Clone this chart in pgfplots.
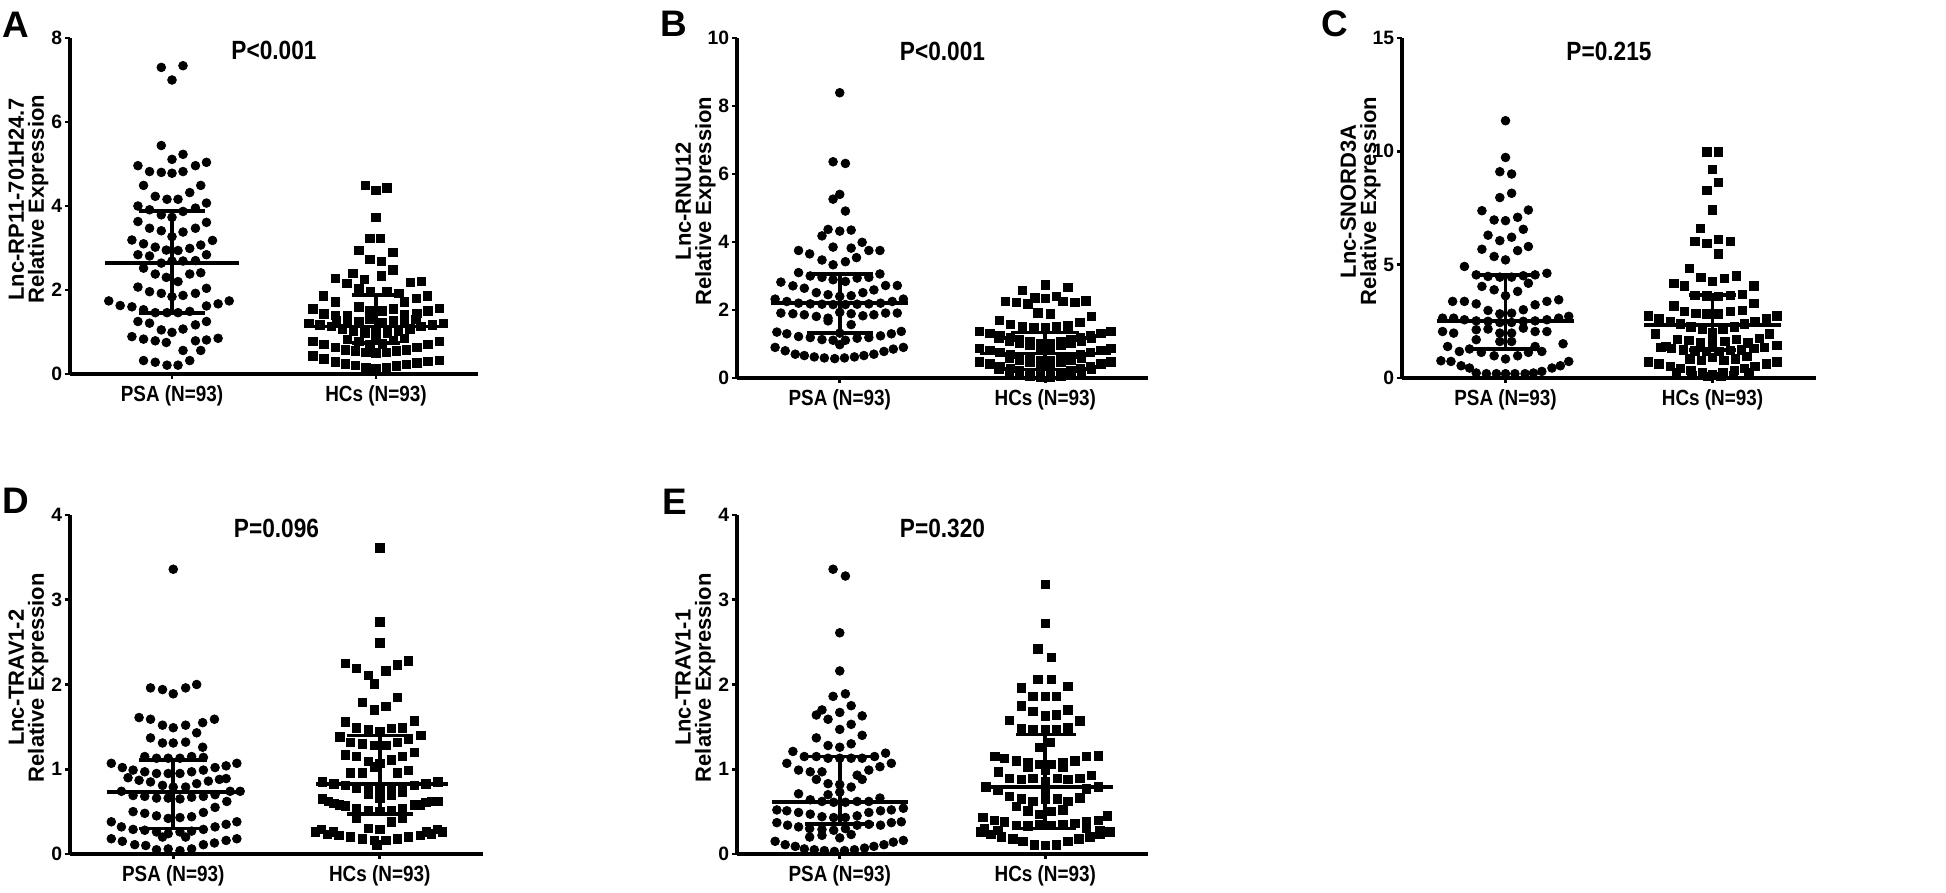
\documentclass[border=0pt]{standalone}
\usepackage{fontspec}
\setmainfont{Liberation Sans}
\newfontfamily\cond{Liberation Sans}[FakeStretch=0.86]
\usepackage{pgfplots}
\pgfplotsset{compat=1.18}
\newcommand\tickfont{\fontsize{11}{12}\selectfont\bfseries}
\newcommand\xlabfont{\fontsize{12.5}{13}\selectfont\cond\bfseries}
\newcommand\labfont{\fontsize{12.5}{11.5}\selectfont\bfseries}
\newcommand\titfont{\fontsize{15}{16}\selectfont\cond\bfseries}
\newcommand\letfont{\fontsize{21}{21}\selectfont\bfseries}
\pgfplotsset{
  panel/.style={
    scale only axis,
    axis lines*=left,
    axis line style={-, line width=1.9pt},
    every tick/.style={black, line width=1.6pt},
    tick align=outside,
    major tick length=0.1cm,
    xmin=0, xmax=4, ymin=0,
    xtick={1,3},
    xticklabels={PSA (N=93),HCs (N=93)},
    xticklabel style={font=\xlabfont, inner sep=0pt, yshift=-0.12cm, anchor=north},
    yticklabel style={font=\tickfont, inner sep=0pt, xshift=-0.05cm},
    clip=false,
  },
  psa/.style={only marks, mark=*, mark size=2.5pt, black},
  hcs/.style={only marks, mark=square*, mark size=2.4pt, black},
  ebar/.style={black, line width=2.1pt, no marks, unbounded coords=jump},
}
\tikzset{
  ylab/.style={xshift=-0.83cm, rotate=90, align=center, font=\labfont, anchor=center, inner sep=0pt},
  ptitle/.style={anchor=base, font=\titfont, inner sep=0pt},
}
\begin{document}
\begin{tikzpicture}
\useasboundingbox (0,0) rectangle (38.92,17.84);
% ---------------- Panel A ----------------
\begin{axis}[panel, at={(1.40cm,10.36cm)}, anchor=south west, width=8.16cm, height=6.72cm,
  ymax=8, ytick={0,2,4,6,8}, yticklabels={0,2,4,6,8}]
\addplot[psa] coordinates {
(0.895,7.30) (1.108,7.34) (1.0,7.0) (0.895,5.44) (1.0,5.11) (1.108,5.23)
(0.666,4.96) (0.78,4.82) (0.895,4.80) (1.0,4.78) (1.108,4.82) (1.23,4.96) (1.338,5.04)
(0.721,4.49) (1.174,4.32) (1.282,4.49)
(0.836,4.23) (0.951,4.16) (1.059,4.16)
(0.666,4.00) (0.78,3.91) (0.895,3.79) (1.0,3.73) (1.108,3.87) (1.23,3.95) (1.338,4.07)
(0.666,3.63) (0.78,3.47) (0.895,3.41) (1.0,3.27) (1.108,3.38) (1.23,3.47) (1.338,3.61)
(0.607,3.19) (0.721,3.10) (0.836,3.02) (0.944,2.95) (1.059,2.94) (1.174,2.99) (1.282,3.07) (1.397,3.18)
(0.666,2.84) (0.78,2.81) (0.895,2.64) (1.0,2.69) (1.108,2.69) (1.23,2.70) (1.338,2.84)
(0.721,2.52) (0.836,2.38) (0.944,2.30) (1.059,2.20) (1.174,2.38) (1.282,2.41)
(0.666,2.07) (0.78,1.96) (0.895,1.92) (1.0,1.84) (1.108,1.87) (1.23,1.92) (1.338,2.04)
(0.38,1.74) (0.492,1.63) (0.607,1.60) (0.721,1.53) (0.836,1.46) (0.951,1.46) (1.059,1.46) (1.174,1.49) (1.338,1.62) (1.452,1.67) (1.561,1.74)
(0.666,1.25) (0.78,1.21) (0.895,1.05) (1.0,0.99) (1.108,1.07) (1.23,1.17) (1.338,1.25)
(0.607,0.89) (0.721,0.83) (0.836,0.79) (0.944,0.75) (1.108,0.56) (1.23,0.79) (1.338,0.81) (1.452,0.85) (1.282,0.56)
(0.721,0.32) (0.836,0.28) (0.951,0.21) (1.059,0.21) (1.174,0.32)
};
\addplot[hcs] coordinates {
(2.895,4.49) (3.0,4.37) (3.108,4.43) (3.0,3.73) (2.938,3.23) (3.043,3.23) (2.83,2.95) (3.167,2.90) (2.938,2.73) (3.052,2.68) (3.167,2.48)
(2.6,2.28) (2.715,2.16) (2.774,2.40) (2.885,2.26) (3.052,2.34) (3.338,2.18) (3.446,2.20)
(2.485,1.86) (2.6,1.72) (2.83,2.04) (2.944,1.96) (3.108,1.96) (3.223,1.92) (3.279,1.72) (3.397,1.80) (3.502,1.86)
(2.38,1.55) (2.49,1.43) (2.60,1.40) (2.72,1.38) (2.83,1.60) (2.94,1.52) (3.06,1.50) (3.17,1.55) (3.28,1.42) (3.40,1.45) (3.51,1.50) (3.62,1.56)
(2.34,1.20) (2.45,1.17) (2.56,1.13) (2.67,1.08) (2.78,1.03) (2.89,0.98) (3.0,0.92) (3.11,0.98) (3.22,1.03) (3.33,1.08) (3.44,1.13) (3.55,1.17) (3.66,1.20) (3.0,1.05)
(2.72,1.28) (2.83,1.25) (2.94,1.30) (3.06,1.22) (3.17,1.28) (3.28,1.25) (2.61,1.27) (3.39,1.30)
(2.38,0.78) (2.49,0.70) (2.60,0.63) (2.70,0.58) (2.80,0.55) (2.90,0.52) (3.0,0.50) (3.10,0.52) (3.20,0.55) (3.30,0.58) (3.40,0.63) (3.51,0.70) (3.62,0.78)
(2.38,0.43) (2.49,0.36) (2.60,0.29) (2.70,0.24) (2.80,0.20) (2.90,0.15) (3.0,0.12) (3.10,0.15) (3.20,0.19) (3.30,0.23) (3.40,0.27) (3.51,0.30) (3.62,0.33)
(2.72,0.83) (2.83,0.78) (2.94,0.70) (3.06,0.72) (3.17,0.80) (3.28,0.85)
};
\addplot[ebar] coordinates {(0.34,2.65) (1.66,2.65) (nan,nan) (0.68,3.88) (1.32,3.88) (nan,nan) (0.68,1.45) (1.32,1.45) (nan,nan) (1,1.45) (1,3.88)};
\addplot[ebar] coordinates {(2.34,1.13) (3.66,1.13) (nan,nan) (2.76,1.88) (3.24,1.88) (nan,nan) (2.76,0.73) (3.24,0.73) (nan,nan) (3,0.73) (3,1.88)};
\node[ylab] at (rel axis cs:0,0.52) {Lnc-RP11-701H24.7\\Relative Expression};
\node[ptitle] at (rel axis cs:0.5,0.935) {P<0.001};
\end{axis}
% ---------------- Panel B ----------------
\begin{axis}[panel, at={(14.74cm,10.28cm)}, anchor=south west, width=8.22cm, height=6.80cm,
  ymax=10, ytick={0,2,4,6,8,10}, yticklabels={0,2,4,6,8,10}]
\addplot[psa] coordinates {
(1.0,8.39) (0.935,6.36) (1.055,6.31) (0.935,5.26) (1.0,5.40) (1.055,4.91)
(0.827,4.18) (0.886,4.37) (1.0,4.32) (1.111,4.35) (1.218,3.99)
(0.599,3.75) (0.707,3.65) (0.827,3.47) (0.935,3.85) (0.935,3.33) (1.055,3.42) (1.111,3.82) (1.163,3.54) (1.283,3.75) (1.391,3.75)
(0.427,2.82) (0.544,2.71) (0.599,3.10) (0.713,3.00) (0.827,2.96) (0.935,2.89) (1.055,2.84) (1.169,2.94) (1.283,2.96) (1.391,3.06) (1.446,2.72) (1.56,2.72)
(0.655,2.64) (0.772,2.51) (0.886,2.45) (1.0,2.40) (1.111,2.42) (1.225,2.51) (1.332,2.59)
(0.371,2.32) (0.485,2.25) (0.599,2.20) (0.713,2.18) (0.827,2.17) (0.935,2.16) (1.055,2.16) (1.169,2.17) (1.283,2.18) (1.397,2.20) (1.511,2.25) (1.619,2.32)
(0.427,1.91) (0.544,1.89) (0.655,1.86) (0.772,1.81) (0.886,1.76) (1.0,1.93) (1.111,1.89) (1.225,1.83) (1.332,1.86) (1.446,1.91) (1.56,1.91) (0.886,1.68) (1.111,1.57)
(0.388,1.35) (0.485,1.30) (0.599,1.22) (0.713,1.19) (0.827,1.13) (0.935,1.11) (1.055,1.11) (1.169,1.17) (1.283,1.19) (1.397,1.24) (1.502,1.30) (1.599,1.37) (1.0,0.98) (1.0,1.32)
(0.371,0.90) (0.469,0.80) (0.567,0.70) (0.655,0.66) (0.752,0.62) (0.85,0.59) (0.951,0.57) (1.046,0.59) (1.143,0.62) (1.235,0.66) (1.332,0.70) (1.43,0.78) (1.521,0.85) (1.619,0.90)
};
\addplot[hcs] coordinates {
(3.0,2.74) (2.775,2.57) (3.221,2.67)
(2.609,2.25) (2.717,2.22) (2.83,2.18) (2.90,2.36) (3.0,2.35) (3.107,2.40) (3.173,2.25) (3.287,2.22) (3.394,2.27)
(2.928,1.91) (3.052,1.89) (2.554,1.69) (3.45,1.81) (3.336,1.63)
(2.661,1.57) (2.775,1.50) (2.889,1.47) (3.0,1.47) (3.107,1.50) (3.221,1.54)
(2.36,1.38) (2.46,1.32) (2.56,1.25) (2.66,1.19) (2.75,1.13) (2.85,1.06) (2.95,1.00) (3.05,1.00) (3.15,1.06) (3.25,1.13) (3.34,1.19) (3.44,1.25) (3.54,1.32) (3.64,1.38)
(2.55,1.16) (2.65,1.09) (2.75,1.03) (2.85,0.96) (2.95,0.90) (3.05,0.90) (3.15,0.96) (3.25,1.03) (3.35,1.09) (3.45,1.16)
(2.36,0.88) (2.46,0.82) (2.56,0.75) (2.66,0.69) (2.75,0.63) (2.85,0.56) (2.95,0.50) (3.05,0.50) (3.15,0.56) (3.25,0.63) (3.34,0.69) (3.44,0.75) (3.54,0.82) (3.64,0.88)
(2.65,0.59) (2.75,0.53) (2.85,0.46) (2.95,0.40) (3.05,0.40) (3.15,0.46) (3.25,0.53) (3.35,0.59)
(2.36,0.48) (2.46,0.42) (2.56,0.35) (2.66,0.29) (2.75,0.23) (2.85,0.16) (2.95,0.10) (3.05,0.10) (3.15,0.16) (3.25,0.23) (3.34,0.29) (3.44,0.35) (3.54,0.42) (3.64,0.48)
(2.55,0.26) (2.65,0.19) (2.75,0.13) (2.85,0.06) (2.95,0.03) (3.05,0.03) (3.15,0.06) (3.25,0.13) (3.35,0.19) (3.45,0.26)
};
\addplot[ebar] coordinates {(0.33,2.20) (1.66,2.20) (nan,nan) (0.68,3.05) (1.32,3.05) (nan,nan) (0.68,1.32) (1.32,1.32) (nan,nan) (1,1.32) (1,3.05)};
\addplot[ebar] coordinates {(2.36,0.72) (3.64,0.72) (nan,nan) (2.67,1.34) (3.33,1.34) (nan,nan) (2.67,0.25) (3.33,0.25) (nan,nan) (3,0.25) (3,1.34)};
\node[ylab] at (rel axis cs:0,0.52) {Lnc-RNU12\\Relative Expression};
\node[ptitle] at (rel axis cs:0.5,0.935) {P<0.001};
\end{axis}
% ---------------- Panel C ----------------
\begin{axis}[panel, at={(28.04cm,10.28cm)}, anchor=south west, width=8.28cm, height=6.80cm,
  ymax=15, ytick={0,5,10,15}, yticklabels={0,5,10,15}]
\addplot[psa] coordinates {
(1.0,11.35) (1.0,9.73) (0.945,9.10) (1.059,9.00) (0.945,7.96) (1.059,8.15) (0.772,7.38) (1.221,7.41)
(0.89,6.97) (1.0,6.94) (1.117,7.09)
(0.831,6.30) (0.945,6.06) (1.059,6.21) (1.172,6.56)
(0.772,5.68) (0.89,5.36) (1.0,5.21) (1.117,5.62) (1.221,5.80)
(0.603,4.92) (0.717,4.55) (0.831,4.48) (0.945,4.45) (1.059,4.45) (1.172,4.51) (1.286,4.55) (1.4,4.62)
(0.772,4.04) (0.89,3.89) (1.0,3.63) (1.117,3.82) (1.221,4.18)
(0.489,3.38) (0.603,3.38) (0.717,3.27) (0.831,2.98) (0.945,2.83) (1.059,2.86) (1.172,3.01) (1.286,3.23) (1.4,3.38) (1.514,3.45)
(0.392,2.64) (0.499,2.64) (0.603,2.57) (0.717,2.52) (0.831,2.50) (0.945,2.45) (1.059,2.45) (1.172,2.50) (1.286,2.52) (1.4,2.57) (1.514,2.64) (1.611,2.72)
(0.392,2.05) (0.499,1.98) (0.717,2.13) (0.831,2.16) (0.945,1.98) (1.059,1.98) (1.172,2.20) (1.286,2.05) (1.4,2.05)
(0.441,1.39) (0.554,1.17) (0.717,1.69) (0.945,1.61) (1.059,1.61) (1.286,1.39) (1.351,1.17) (1.556,1.51)
(0.652,1.28) (0.766,1.13) (0.89,0.98) (1.0,0.84) (1.117,0.98) (1.221,1.13)
(0.376,0.76) (0.473,0.73) (0.571,0.54) (0.652,0.44) (1.449,0.44) (1.53,0.54) (1.611,0.73)
(0.717,0.22) (0.815,0.19) (0.912,0.19) (1.0,0.19) (1.091,0.19) (1.189,0.19) (1.27,0.22) (1.351,0.29)
};
\addplot[hcs] coordinates {
(2.945,9.98) (3.059,9.98) (3.0,9.2) (3.059,8.62) (2.945,8.29) (3.0,7.41) (2.883,6.60)
(2.828,6.02) (2.945,5.94) (3.059,6.12) (3.172,6.02) (3.059,5.47) (2.776,4.84)
(2.889,4.45) (3.0,4.26) (3.114,4.40) (3.228,4.51) (2.626,4.18) (2.73,4.07) (3.4,4.07)
(2.828,3.65) (2.945,3.62) (3.059,3.60) (3.172,3.65) (3.286,3.70)
(2.626,3.19) (2.73,2.94) (2.84,2.86) (2.945,2.83) (3.059,2.83) (3.172,2.94) (3.286,2.98) (3.4,3.30)
(2.38,2.75) (2.48,2.62) (2.59,2.50) (2.69,2.38) (2.79,2.26) (2.90,2.14) (3.0,2.02) (3.10,2.14) (3.21,2.26) (3.31,2.38) (3.41,2.50) (3.52,2.62) (3.62,2.75)
(2.45,1.95) (2.55,1.40) (2.66,1.70) (2.77,1.65) (2.88,1.55) (3.0,1.60) (3.12,1.62) (3.23,1.70) (3.34,1.55) (3.45,1.75) (3.55,1.95) (3.62,1.45)
(2.50,1.35) (2.60,1.32) (2.72,1.25) (2.83,1.20) (2.94,1.18) (3.06,1.18) (3.17,1.22) (3.28,1.25) (3.40,1.30) (3.50,1.35)
(2.78,0.84) (2.89,0.78) (3.0,0.90) (3.11,0.78) (3.22,0.84) (3.33,0.95)
(2.38,0.72) (2.48,0.62) (2.59,0.52) (2.69,0.43) (2.79,0.34) (2.90,0.25) (3.0,0.15) (3.10,0.25) (3.21,0.34) (3.31,0.43) (3.41,0.52) (3.52,0.62) (3.62,0.72)
(2.65,0.25) (2.80,0.12) (2.95,0.08) (3.08,0.08) (3.20,0.12) (3.35,0.25)
};
\addplot[ebar] coordinates {(0.34,2.52) (1.66,2.52) (nan,nan) (0.68,4.55) (1.32,4.55) (nan,nan) (0.68,1.28) (1.32,1.28) (nan,nan) (1,1.28) (1,4.55)};
\addplot[ebar] coordinates {(2.34,2.35) (3.66,2.35) (nan,nan) (2.77,3.67) (3.23,3.67) (nan,nan) (2.77,1.25) (3.23,1.25) (nan,nan) (3,1.25) (3,3.67)};
\node[ylab] at (rel axis cs:0,0.52) {Lnc-SNORD3A\\Relative Expression};
\node[ptitle] at (rel axis cs:0.5,0.935) {P=0.215};
\end{axis}
% ---------------- Panel D ----------------
\begin{axis}[panel, at={(1.40cm,0.76cm)}, anchor=south west, width=8.26cm, height=6.78cm,
  ymax=4, ytick={0,1,2,3,4}, yticklabels={0,1,2,3,4}]
\addplot[psa] coordinates {
(1.0,3.36)
(0.78,1.96) (0.896,1.94) (1.0,1.89) (1.12,1.96) (1.227,2.00)
(0.669,1.61) (0.78,1.59) (0.896,1.52) (1.0,1.49) (1.12,1.52) (1.227,1.43) (1.285,1.55) (1.399,1.59)
(0.78,1.37) (0.896,1.31) (1.0,1.31) (1.12,1.32) (1.285,1.26)
(0.724,1.15) (0.838,1.13) (0.951,1.13) (1.065,1.13) (1.178,1.15) (1.292,1.14)
(0.4,1.07) (0.507,1.02) (0.611,0.99) (0.724,0.97) (0.838,0.95) (0.951,0.95) (1.065,0.95) (1.178,0.97) (1.292,0.99) (1.405,1.02) (1.512,1.04) (1.616,1.07)
(0.562,0.90) (0.669,0.87) (0.78,0.85) (0.896,0.81) (1.0,0.79) (1.12,0.79) (1.227,0.83) (1.34,0.86) (1.447,0.88) (1.512,0.89)
(0.498,0.74) (0.611,0.69) (0.724,0.68) (0.838,0.66) (0.951,0.66) (1.065,0.65) (1.178,0.67) (1.292,0.68) (1.405,0.70) (1.551,0.74) (1.648,0.74)
(0.611,0.50) (0.724,0.48) (0.838,0.45) (0.951,0.42) (1.065,0.43) (1.178,0.44) (1.292,0.49) (1.405,0.55) (1.519,0.62)
(0.4,0.38) (0.498,0.32) (0.611,0.29) (0.724,0.28) (0.838,0.26) (0.951,0.24) (1.065,0.26) (1.178,0.27) (1.292,0.29) (1.405,0.32) (1.512,0.35) (1.616,0.38)
(0.4,0.18) (0.507,0.15) (0.627,0.11) (0.734,0.10) (0.838,0.05) (0.951,0.06) (1.065,0.04) (1.178,0.06) (1.292,0.11) (1.399,0.13) (1.512,0.16) (1.616,0.18)
(0.896,0.20) (1.12,0.20)
};
\addplot[hcs] coordinates {
(3.0,3.61) (3.0,2.74) (3.0,2.49)
(2.669,2.25) (2.776,2.19) (2.887,2.11) (2.945,2.01) (3.058,2.16) (3.172,2.23) (3.276,2.28)
(2.831,1.79) (2.945,1.70) (3.058,1.74) (3.172,1.85)
(2.669,1.56) (2.776,1.49) (2.887,1.47) (3.0,1.44) (3.113,1.48) (3.22,1.49) (3.334,1.57)
(2.614,1.38) (2.718,1.32) (2.831,1.30) (2.945,1.28) (3.058,1.28) (3.172,1.32) (3.276,1.35) (3.399,1.40)
(2.669,1.17) (2.776,1.15) (2.887,1.09) (3.0,1.07) (3.113,1.11) (3.22,1.15) (3.334,1.20)
(2.718,0.96) (2.831,0.96) (2.945,1.03) (3.172,0.96) (3.276,0.99)
(2.442,0.85) (2.556,0.83) (2.669,0.81) (2.776,0.78) (2.887,0.77) (3.0,0.76) (3.113,0.77) (3.22,0.78) (3.334,0.81) (3.447,0.83) (3.561,0.85)
(2.887,0.71) (3.0,0.66) (3.113,0.69) (3.22,0.73)
(2.442,0.65) (2.556,0.60) (2.669,0.57) (2.776,0.54) (2.887,0.51) (3.0,0.50) (3.113,0.51) (3.22,0.54) (3.334,0.58) (3.447,0.61) (3.561,0.62)
(2.776,0.42) (2.887,0.30) (3.0,0.29) (3.113,0.38) (3.22,0.42)
(2.378,0.26) (2.491,0.23) (2.605,0.22) (2.718,0.20) (2.831,0.18) (2.945,0.16) (3.058,0.16) (3.172,0.18) (3.276,0.20) (3.392,0.22) (3.502,0.24) (3.609,0.26)
(2.971,0.11)
(2.435,0.29) (2.55,0.26) (3.45,0.26) (3.56,0.29) (2.50,0.62) (2.61,0.58) (3.39,0.58) (3.50,0.62)
};
\addplot[ebar] coordinates {(0.36,0.73) (1.66,0.73) (nan,nan) (0.67,1.11) (1.33,1.11) (nan,nan) (0.67,0.30) (1.33,0.30) (nan,nan) (1,0.30) (1,1.11)};
\addplot[ebar] coordinates {(2.38,0.83) (3.66,0.83) (nan,nan) (2.68,1.40) (3.32,1.40) (nan,nan) (2.68,0.47) (3.32,0.47) (nan,nan) (3,0.47) (3,1.40)};
\node[ylab] at (rel axis cs:0,0.52) {Lnc-TRAV1-2\\Relative Expression};
\node[ptitle] at (rel axis cs:0.5,0.935) {P=0.096};
\end{axis}
% ---------------- Panel E ----------------
\begin{axis}[panel, at={(14.74cm,0.76cm)}, anchor=south west, width=8.22cm, height=6.78cm,
  ymax=4, ytick={0,1,2,3,4}, yticklabels={0,1,2,3,4}]
\addplot[psa] coordinates {
(0.935,3.36) (1.055,3.28) (1.0,2.61) (1.0,2.16) (0.935,1.86) (1.055,1.89)
(0.772,1.64) (0.827,1.70) (1.0,1.67) (1.111,1.75) (1.218,1.63) (0.886,1.59)
(1.0,1.47) (1.111,1.53) (0.772,1.37) (1.218,1.40)
(0.886,1.28) (1.0,1.26) (1.111,1.30)
(0.544,1.21) (0.655,1.15) (0.772,1.15) (0.886,1.13) (1.0,1.13) (1.111,1.13) (1.218,1.13) (1.339,1.15) (1.446,1.19)
(0.485,1.07) (0.599,0.99) (0.713,0.97) (0.827,0.97) (1.169,0.93) (1.283,0.99) (1.391,1.03) (1.502,1.07)
(0.772,0.88) (0.886,0.83) (1.0,0.82) (1.111,0.79) (1.218,0.88)
(0.599,0.71) (1.0,0.73) (0.713,0.64) (0.827,0.62) (0.941,0.61) (1.055,0.61) (1.169,0.62) (1.283,0.62) (1.391,0.66) (0.886,0.70)
(0.388,0.52) (0.485,0.51) (0.599,0.49) (0.713,0.47) (0.827,0.44) (0.941,0.43) (1.055,0.43) (1.169,0.45) (1.283,0.49) (1.397,0.51) (1.502,0.52) (1.619,0.54)
(0.388,0.37) (0.492,0.34) (0.599,0.32) (0.707,0.30) (0.827,0.29) (0.941,0.28) (1.055,0.30) (1.169,0.34) (1.283,0.35) (1.397,0.34) (1.502,0.37) (1.599,0.38)
(0.707,0.20) (0.827,0.22) (1.0,0.19) (1.111,0.23)
(0.371,0.15) (0.469,0.11) (0.567,0.09) (0.655,0.06) (0.752,0.05) (0.85,0.04) (0.948,0.03) (1.046,0.04) (1.143,0.05) (1.241,0.07) (1.332,0.09) (1.43,0.11) (1.521,0.14) (1.619,0.16)
};
\addplot[hcs] coordinates {
(3.0,3.18) (3.0,2.72) (2.928,2.42) (3.059,2.32)
(2.928,2.06) (3.059,2.06) (3.221,1.98) (2.765,1.96)
(2.879,1.86) (3.0,1.86) (3.107,1.86)
(2.765,1.75) (2.879,1.68) (3.0,1.63) (3.107,1.64) (3.221,1.70)
(2.651,1.58) (3.336,1.57)
(2.765,1.48) (2.879,1.47) (3.0,1.47) (3.107,1.47) (3.221,1.49)
(2.945,1.26) (3.052,1.32)
(2.511,1.15) (2.603,1.13) (2.717,1.10) (2.831,1.08) (2.945,1.06) (3.059,1.06) (3.173,1.08) (3.287,1.10) (3.401,1.15) (3.515,1.16)
(2.544,0.97) (2.651,0.89) (2.765,0.88) (2.879,0.89) (3.0,0.86) (3.117,0.89) (3.221,0.88) (3.336,0.89) (3.45,0.93)
(2.651,0.68) (2.765,0.65) (2.879,0.62) (3.0,0.65) (3.117,0.65) (3.221,0.62) (3.336,0.66)
(2.717,0.56) (2.831,0.51) (2.945,0.47) (3.059,0.50) (3.173,0.52)
(2.391,0.43) (2.505,0.40) (2.603,0.38) (2.717,0.34) (2.831,0.33) (2.945,0.35) (3.059,0.34) (3.173,0.35) (3.287,0.36) (3.401,0.38) (3.515,0.40) (3.606,0.45)
(2.375,0.26) (2.472,0.23) (2.57,0.20) (2.684,0.18) (2.782,0.15) (2.896,0.11) (3.0,0.10) (3.107,0.11) (3.221,0.15) (3.326,0.18) (3.433,0.20) (3.531,0.23) (3.629,0.26)
(2.407,0.30) (2.537,0.28) (3.401,0.30) (3.531,0.28)
(2.423,0.79) (3.515,0.79) (2.537,0.75) (3.401,0.77) (2.831,1.03) (3.173,1.03) (3.0,0.99) (3.0,0.76)
};
\addplot[ebar] coordinates {(0.34,0.61) (1.66,0.61) (nan,nan) (0.66,1.15) (1.33,1.15) (nan,nan) (0.66,0.35) (1.33,0.35) (nan,nan) (1,0.35) (1,1.15)};
\addplot[ebar] coordinates {(2.37,0.79) (3.66,0.79) (nan,nan) (2.72,1.41) (3.30,1.41) (nan,nan) (2.72,0.30) (3.30,0.30) (nan,nan) (3,0.30) (3,1.41)};
\node[ylab] at (rel axis cs:0,0.52) {Lnc-TRAV1-1\\Relative Expression};
\node[ptitle] at (rel axis cs:0.5,0.935) {P=0.320};
\end{axis}
% ---------------- Panel letters ----------------
\node[anchor=base west, inner sep=0pt, font=\letfont] at (0.04,17.08) {A};
\node[anchor=base west, inner sep=0pt, font=\letfont] at (13.20,17.10) {B};
\node[anchor=base west, inner sep=0pt, font=\letfont] at (26.42,17.10) {C};
\node[anchor=base west, inner sep=0pt, font=\letfont] at (0.04,7.56) {D};
\node[anchor=base west, inner sep=0pt, font=\letfont] at (13.24,7.54) {E};
\end{tikzpicture}
\end{document}
